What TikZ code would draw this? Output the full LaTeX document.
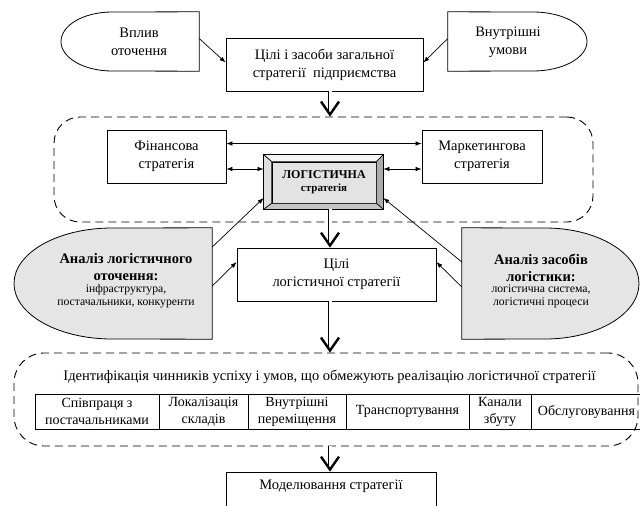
\documentclass[tikz,border=0pt]{standalone}
\usepackage{fontspec}
\setmainfont{Liberation Serif}
\usetikzlibrary{arrows.meta}
\definecolor{shade}{gray}{0.9}
\begin{document}
\begin{tikzpicture}[x=1pt,y=-1pt,
  box/.style={draw, line width=0.8pt, inner sep=0pt},
  txt/.style={font=\fontsize{14.5}{18}\selectfont, align=center, inner sep=0pt},
  arr/.style={line width=0.7pt, -{Latex[length=6pt,width=4.5pt]}},
  darr/.style={line width=0.7pt, {Latex[length=6pt,width=4.5pt]}-{Latex[length=6pt,width=4.5pt]}},
  dbl/.style={double, double distance=3pt, line width=0.8pt, shorten >=4pt},
  chev/.style={line width=2.4pt, line join=miter},
  dashbox/.style={draw, dash pattern=on 8pt off 5pt, line width=0.9pt, inner sep=0pt},
  cell/.style={draw, line width=0.7pt, inner sep=0pt, align=center, font=\fontsize{14}{17}\selectfont, minimum height=35pt}
]
\useasboundingbox (0,0) rectangle (640,506);
\coordinate (ax) at (330,0);

% top shapes
\node[inner sep=0pt, minimum width=138pt, minimum height=59pt] (vpl) at (130,41.5) {};
\draw[line width=0.8pt] (vpl.north east) -- (112,12) arc[start angle=90, end angle=270, x radius=51pt, y radius=29.5pt] -- (vpl.south east) -- cycle;
\node[txt] (vplt) at (139,42) {Вплив\\оточення};

\node[inner sep=0pt, minimum width=139pt, minimum height=59pt] (vnu) at (517.5,41.5) {};
\draw[line width=0.8pt] (vnu.north west) -- (533,12) arc[start angle=90, end angle=-90, x radius=54pt, y radius=29.5pt] -- (vnu.south west) -- cycle;
\node[txt] (vnut) at (508,42) {Внутрішні\\умови};

\node[box, txt, minimum width=197pt, minimum height=53pt] (top) at (324.5,64.5) {Цілі і засоби загальної\\стратегії\ \ підприємства};

% dashed group 1
\node[dashbox, rounded corners=26pt, minimum width=539pt, minimum height=105pt] (d1) at (323.5,169.5) {};
\node[box, txt, minimum width=119pt, minimum height=53pt] (fin) at (166.5,156.5) {Фінансова\\стратегія};
\node[box, txt, minimum width=120pt, minimum height=53pt] (mkt) at (482,156.5) {Маркетингова\\стратегія};

\node[box, fill=white, minimum width=119pt, minimum height=54pt] (log) at (323.5,182) {};
\node[box, fill=gray!22, minimum width=104pt, minimum height=41pt] (logi) at (324,182.5) {};
\filldraw[fill=gray!8, line width=0.6pt] (log.north west) -- (log.north east) -- (logi.north east) -- (logi.north west) -- cycle;
\filldraw[fill=gray!25, line width=0.6pt] (log.north west) -- (logi.north west) -- (logi.south west) -- (log.south west) -- cycle;
\filldraw[fill=gray!65, line width=0.6pt] (log.north east) -- (log.south east) -- (logi.south east) -- (logi.north east) -- cycle;
\filldraw[fill=gray!45, line width=0.6pt] (log.south west) -- (logi.south west) -- (logi.south east) -- (log.south east) -- cycle;
\draw[line width=1.1pt] (log.north west) rectangle (log.south east);
\node[font=\bfseries\fontsize{12}{14}\selectfont, inner sep=0pt] (logt1) at (324,175) {ЛОГІСТИЧНА};
\node[font=\bfseries\fontsize{11}{12}\selectfont, inner sep=0pt] (logt2) at (324,189) {стратегія};

% analysis shapes
\node[inner sep=0pt, minimum width=198pt, minimum height=111pt] (anl) at (113,283.5) {};
\filldraw[fill=shade, line width=0.8pt] (anl.north east) -- (112,228) arc[start angle=90, end angle=270, x radius=98pt, y radius=55.5pt] -- (anl.south east) -- cycle;
\node[font=\bfseries\fontsize{14.5}{17}\selectfont, align=center, inner sep=0pt] (anlt1) at (126,267.5) {Аналіз логістичного\\оточення:};
\node[font=\fontsize{11.7}{13}\selectfont, align=center, inner sep=0pt] (anlt2) at (126,296.5) {інфраструктура,\\постачальники, конкуренти};

\node[inner sep=0pt, minimum width=177pt, minimum height=111pt] (anr) at (550.5,283.5) {};
\filldraw[fill=shade, line width=0.8pt] (anr.north west) -- (545,228) arc[start angle=90, end angle=-90, x radius=94pt, y radius=55.5pt] -- (anr.south west) -- cycle;
\node[font=\bfseries\fontsize{14.5}{17}\selectfont, align=center, inner sep=0pt] (anrt1) at (541,267.5) {Аналіз засобів\\логістики:};
\node[font=\fontsize{11.7}{13}\selectfont, align=center, inner sep=0pt] (anrt2) at (541,296.5) {логістична система,\\логістичні процеси};

\node[box, txt, minimum width=199pt, minimum height=53pt] (cili) at (336.5,274.5) {Цілі\\логістичної стратегії};

% dashed group 2
\node[dashbox, rounded corners=30pt, minimum width=624pt, minimum height=93pt] (d2) at (326,399.5) {};
\node[txt] (ident) at (329.5,377) {Ідентифікація чинників успіху і умов, що обмежують реалізацію логістичної стратегії};
\node[cell, minimum width=124pt] (c1) at (97,411.5) {Співпраця з\\постачальниками};
\node[cell, minimum width=89pt] (c2) at (203.5,411.5) {Локалізація\\складів};
\node[cell, minimum width=98pt] (c3) at (297,411.5) {Внутрішні\\переміщення};
\node[cell, minimum width=123pt] (c4) at (407.5,411.5) {Транспортування};
\node[cell, minimum width=62pt] (c5) at (500,411.5) {Канали\\збуту};
\node[cell, minimum width=111pt] (c6) at (586.5,411.5) {Обслуговування};

\node[box, minimum width=210pt, minimum height=44pt] (mod) at (331,494) {};
\node[txt] (modt) at (331,486) {Моделювання стратегії};

% thin connectors
\draw[arr] ([yshift=3pt]vpl.east) -- ([yshift=2pt]top.west);
\draw[arr] ([yshift=3pt]vnu.west) -- ([yshift=2pt]top.east);
\draw[darr] ([yshift=13pt]fin.east) -- ([yshift=13pt]mkt.west);
\draw[darr] ([yshift=-12.5pt]fin.east) -- ([yshift=13pt]log.west);
\draw[darr] ([yshift=13pt]log.east) -- ([yshift=-12.5pt]mkt.west);
\draw[arr] ([yshift=36.5pt]anl.east) -- ([yshift=-16pt]log.west);
\draw[arr] ([yshift=-2.5pt]anl.east) -- ([yshift=12.5pt]cili.west);
\draw[arr] ([yshift=21.5pt]anr.west) -- ([yshift=-16pt]log.east);
\draw[arr] ([yshift=-3.5pt]anr.west) -- ([yshift=12.5pt]cili.east);

% double arrows
\coordinate (t1) at (d1.north -| ax);
\coordinate (t2) at (cili.north -| ax);
\coordinate (t3) at (d2.north -| ax);
\coordinate (t4) at (mod.north -| ax);
\draw[dbl] (top.south -| ax) -- (t1);
\draw[dbl] (log.south -| ax) -- (t2);
\draw[dbl] (cili.south -| ax) -- (t3);
\draw[dbl] (d2.south -| ax) -- (t4);
\foreach \t in {t1,t2,t3,t4}{
  \draw[chev] ([shift={(-9pt,15pt)}]\t) -- ([yshift=2pt]\t) -- ([shift={(9pt,15pt)}]\t);
}
\end{tikzpicture}
\end{document}
